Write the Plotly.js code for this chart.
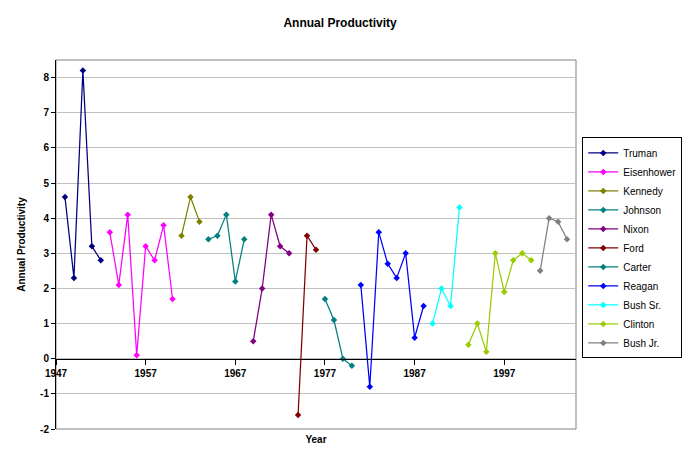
<!DOCTYPE html>
<html>
<head>
<meta charset="utf-8">
<script src="https://cdn.plot.ly/plotly-3.0.1.min.js"></script>
<style>html,body{margin:0;padding:0;background:#fff;}#chart{width:685px;height:456px;}</style>
</head>
<body>
<div id="chart"></div>
<script>
const presidents = ["Truman","Eisenhower","Kennedy","Johnson","Nixon","Ford","Carter","Reagan","Bush Sr.","Clinton","Bush Jr."];
const colors = ["#000080","#FF00FF","#808000","#008080","#800080","#800000","#008080","#0000FF","#00FFFF","#99CC00","#808080"];
const years = [
  [1948,1949,1950,1951,1952],
  [1953,1954,1955,1956,1957,1958,1959,1960],
  [1961,1962,1963],
  [1964,1965,1966,1967,1968],
  [1969,1970,1971,1972,1973],
  [1974,1975,1976],
  [1977,1978,1979,1980],
  [1981,1982,1983,1984,1985,1986,1987,1988],
  [1989,1990,1991,1992],
  [1993,1994,1995,1996,1997,1998,1999,2000],
  [2001,2002,2003,2004]
];
const productivity = [
  [4.6,2.3,8.2,3.2,2.8],
  [3.6,2.1,4.1,0.1,3.2,2.8,3.8,1.7],
  [3.5,4.6,3.9],
  [3.4,3.5,4.1,2.2,3.4],
  [0.5,2.0,4.1,3.2,3.0],
  [-1.6,3.5,3.1],
  [1.7,1.1,0.0,-0.2],
  [2.1,-0.8,3.6,2.7,2.3,3.0,0.6,1.5],
  [1.0,2.0,1.5,4.3],
  [0.4,1.0,0.2,3.0,1.9,2.8,3.0,2.8],
  [2.5,4.0,3.9,3.4]
];
const xTicks = [1947,1957,1967,1977,1987,1997];
const xRange = [1947,2005];
const yRange = [-2,8.5];
const yTicks = [-2,-1,0,1,2,3,4,5,6,7,8];

const traces = presidents.map((p,i)=>({
  type:'scatter', mode:'lines+markers', name:p,
  x: years[i], y: productivity[i],
  line:{color:colors[i], width:1.25},
  marker:{color:colors[i], symbol:'diamond', size:5}
}));

const FONT = "Arial, 'Liberation Sans', sans-serif";
const zeroPos = (0 - yRange[0])/(yRange[1]-yRange[0]);

const layout = {
  width:685, height:456,
  paper_bgcolor:'#fff', plot_bgcolor:'#fff',
  font:{family:FONT, size:10, color:'#000'},
  margin:{l:56, r:109, t:60, b:27, autoexpand:false},
  showlegend:true,
  title:{text:'Annual Productivity', font:{family:FONT, size:12, weight:'bold', color:'#000'},
         xref:'container', x:0.4965, yref:'container', y:0.95, xanchor:'center', yanchor:'middle'},
  xaxis:{
    range:xRange, tickvals:xTicks, ticktext:xTicks.map(String),
    anchor:'free', position:zeroPos,
    showgrid:false, zeroline:false,
    showline:true, linecolor:'#000', linewidth:1,
    ticks:'outside', ticklen:5, tickcolor:'#000', tickwidth:1,
    tickfont:{family:FONT, size:10, weight:'bold'},
    title:{text:'Year', font:{family:FONT, size:10, weight:'bold'}, standoff:58},
    automargin:false, fixedrange:true
  },
  yaxis:{
    range:yRange, tickvals:yTicks, ticktext:yTicks.map(String),
    showgrid:true, gridcolor:'#C0C0C0', gridwidth:1,
    zeroline:false,
    showline:true, linecolor:'#000', linewidth:1,
    ticks:'outside', ticklen:4, tickcolor:'#000', tickwidth:1,
    tickfont:{family:FONT, size:10, weight:'bold'},
    title:{text:'Annual Productivity', font:{family:FONT, size:10, weight:'bold'}, standoff:12},
    automargin:false, fixedrange:true
  },
  legend:{
    x:1.012, y:0.79, xanchor:'left', yanchor:'top',
    bordercolor:'#000', borderwidth:1, bgcolor:'#fff',
    font:{family:FONT, size:10}, tracegroupgap:0, itemwidth:30
  },
  shapes:[{type:'rect', xref:'paper', yref:'paper', x0:0, x1:1, y0:0, y1:1,
           line:{color:'#808080', width:1}, layer:'below'}]
};

Plotly.newPlot('chart', traces, layout, {displayModeBar:false, staticPlot:true});
</script>
</body>
</html>
